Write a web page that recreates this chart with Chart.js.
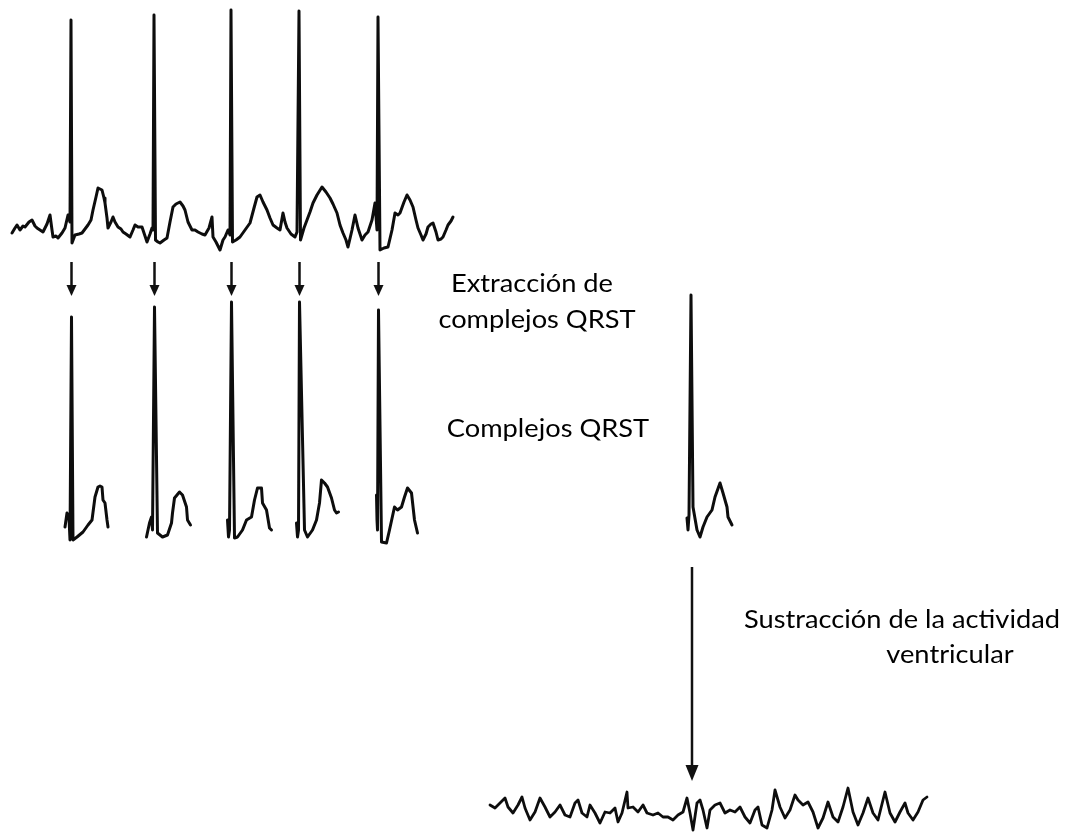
<!DOCTYPE html>
<html>
<head>
<meta charset="utf-8">
<script src="https://cdn.jsdelivr.net/npm/chart.js@4"></script>
<style>
  html, body { margin: 0; padding: 0; background: #fff; }
  #wrap { width: 1082px; height: 834px; position: relative; }
</style>
</head>
<body>
<div id="wrap"><canvas id="ecg"></canvas></div>
<script>
// ECG signal, samples as [time, amplitude] relative to trace start / baseline
const ecgTrace = [
    [0,-3],[3,2],[5,5],[8,0],[11,4],[13,3],[17,8],[20,10],[23,4],[25,2],[28,0],[31,-2],[35,6],[38,15],[40,0],[41,-7],
    [44,-6],[46,-8],[50,-3],[53,2],[56,15],[58,8],[59,210],[60,-13],[63,-5],[67,-4],[70,-3],[73,1],[76,5],[79,10],
    [81,20],[84,33],[86,42],[88,41],[90,40],[92,32],[93,27],[95,12],[96,2],[99,8],[101,13],[103,8],[106,3],[109,1],
    [111,-2],[114,-4],[118,-7],[121,0],[123,5],[126,3],[130,3],[133,-6],[135,-12],[138,-4],[140,2],[141,0],[142,215],
    [143.5,-10],[146,-12],[148,-13],[152,-10],[155,-8],[158,8],[161,23],[164,26],[168,28],[171,24],[173,20],[176,8],
    [180,0],[183,0],[186,-2],[190,-4],[193,-5],[197,2],[200,13],[201,-7],[204,-12],[208,-20],[211,-10],[213,-7],
    [216,0],[218,-5],[219,220],[220.5,-12],[224,-10],[228,-7],[233,0],[238,7],[242,22],[245,33],[248,35],[251,28],
    [255,20],[258,12],[261,5],[265,2],[268,0],[271,17],[273,8],[275,2],[279,-4],[283,-7],[285,-2],[287,219],
    [288.5,-10],[292,2],[295,10],[298,18],[301,27],[305,35],[310,43],[314,38],[318,32],[321,26],[325,17],[328,5],
    [331,-3],[334,-10],[336,-17],[340,0],[343,15],[346,2],[350,-10],[353,-5],[356,-2],[360,10],[363,27],[365,0],
    [366,213],[368,-20],[372,-18],[376,-17],[380,0],[383,17],[386,15],[388,17],[392,28],[395,35],[398,30],[401,23],
    [404,10],[406,2],[409,-5],[411,-10],[414,-4],[416,3],[419,6],[421,7],[424,-2],[426,-10],[429,-9],[431,-7],
    [434,0],[436,5],[439,9],[441,13]
];
// beat (R peak) times in the ECG, same time unit
const beatTimes = [59, 142, 219, 287, 366];

// extracted QRST complexes, [time from R peak, amplitude]
const complex1 = [[-6.5,-7],[-4.5,7],[-2.5,2],[-1.5,-20],[0,203],[1.5,-20],[5.5,-17],[11.5,-12],[16.5,-5],[20.5,0],[23.5,23],[26.5,33],[28.5,34],[30.5,33],[31.5,20],[33.5,17],[35.5,0],[36.5,-7]];
const complex2 = [[-8,-17],[-5,-3],[-3,3],[-2,-10],[0,213],[3,-13],[8,-17],[13,-15],[17,-3],[18,7],[20,22],[25,28],[28,25],[32,13],[33,0],[36,-5]];
const complex3 = [[-4,0],[-3,-17],[-2,-10],[0,218],[3,-18],[6,-17],[11,-10],[15,0],[20,3],[23,20],[26,32],[30,32],[31,17],[35,10],[38,-8],[40,-10]];
const complex4 = [[-3,-3],[-2,-17],[-1,-10],[0,218],[5,-10],[8,-17],[13,-10],[17,0],[20,17],[22,40],[25,37],[28,33],[32,22],[35,10],[37,7],[39,8]];
const complex5 = [[-2,25],[-1.5,0],[-1,-10],[0,210],[3,-22],[8,-23],[11,-10],[16,13],[19,10],[23,13],[26,23],[29,32],[33,27],[36,0],[39,-13]];

// averaged QRST template
const template = [[-4,2],[-3,-10],[-2,5],[0,225],[2,13],[6,-10],[9,-17],[12,-7],[16,3],[21,10],[24,23],[29,37],[32,27],[36,13],[37,3],[41,-5]];

// residual atrial activity after subtraction
const residual = [
    [0,5],[5,2],[10,7],[15,12],[18,3],[23,-3],[28,5],[32,13],[35,2],[40,-10],[45,-2],[50,12],[55,3],[60,-7],[65,-2],
    [70,5],[75,-5],[80,-7],[85,7],[88,10],[92,-3],[97,-7],[100,5],[105,-3],[110,-13],[115,-2],[120,-3],[125,2],[128,-12],
    [132,-3],[137,18],[138,2],[143,3],[148,-2],[153,5],[157,-3],[163,-5],[168,-3],[173,-7],[178,-7],[183,-10],[188,-5],
    [193,-2],[197,12],[200,-3],[203,-20],[207,7],[210,10],[213,0],[217,-18],[220,0],[225,5],[230,7],[235,-3],[240,0],
    [245,-2],[250,3],[255,-7],[260,-13],[265,0],[268,3],[272,-15],[277,-18],[282,0],[285,20],[290,3],[295,-8],[300,0],
    [305,15],[308,10],[313,5],[318,8],[323,-2],[328,-18],[333,-8],[338,8],[343,-7],[348,-12],[353,3],[358,22],[363,-2],
    [368,-15],[373,-3],[378,12],[383,-3],[388,-10],[395,18],[400,-3],[405,-12],[410,-2],[415,7],[418,-3],[423,-10],
    [428,-2],[433,10],[437,13]
];

// text lines: centre and baseline
const labelLines = [
    { text: 'Extracción de', cx: 532, base: 292 },
    { text: 'complejos QRST', cx: 537, base: 328 },
    { text: 'Complejos QRST', cx: 548, base: 437 },
    { text: 'Sustracción de la actividad', cx: 902, base: 628 },
    { text: 'ventricular', cx: 950, base: 663 }
];

// where each trace sits on the page (x origin, baseline)
const ecgOrigin = { x: 12, y: 230 };
const complexBase = 520;
const templateOrigin = { x: 691, y: 520 };
const residualOrigin = { x: 490, y: 810 };

function place(points, ox, oy) {
    return points.map(p => ({ x: ox + p[0], y: oy - p[1] }));
}

function lineSet(data, width) {
    return {
        data: data,
        borderColor: '#0d0d0d',
        borderWidth: width || 3,
        pointRadius: 0,
        tension: 0,
        fill: false,
        borderJoinStyle: 'round',
        borderCapStyle: 'round'
    };
}

const complexes = [complex1, complex2, complex3, complex4, complex5];
const rPeaks = beatTimes.map(t => ecgOrigin.x + t + 0.5);

const datasets = [lineSet(place(ecgTrace, ecgOrigin.x, ecgOrigin.y))];
complexes.forEach((c, i) => {
    datasets.push(lineSet(place(c, rPeaks[i], complexBase)));
});
datasets.push(lineSet(place(template, templateOrigin.x, templateOrigin.y)));
datasets.push(lineSet(place(residual, residualOrigin.x, residualOrigin.y), 2.8));

function arrow(ctx, xs, ys, x, y1, y2, head, hw) {
    const px = xs.getPixelForValue(x);
    const a = ys.getPixelForValue(y1);
    const b = ys.getPixelForValue(y2);
    ctx.beginPath();
    ctx.moveTo(px, a);
    ctx.lineTo(px, b - head + 1);
    ctx.stroke();
    ctx.beginPath();
    ctx.moveTo(px - hw, b - head);
    ctx.lineTo(px + hw, b - head);
    ctx.lineTo(px, b);
    ctx.closePath();
    ctx.fill();
}

const overlay = {
    id: 'overlay',
    afterDatasetsDraw(chart) {
        const ctx = chart.ctx;
        const xs = chart.scales.x, ys = chart.scales.y;
        ctx.save();
        ctx.strokeStyle = '#111';
        ctx.fillStyle = '#111';
        ctx.lineWidth = 2.5;
        rPeaks.forEach(x => arrow(ctx, xs, ys, x, 262, 296, 11, 5));
        arrow(ctx, xs, ys, templateOrigin.x + 1, 567, 781, 16, 6.5);

        ctx.fillStyle = '#000';
        ctx.font = '25px Lato';
        ctx.textAlign = 'center';
        ctx.textBaseline = 'alphabetic';
        labelLines.forEach(l => {
            // slightly wider than Lato, closer to the original Calibri look
            ctx.save();
            ctx.translate(xs.getPixelForValue(l.cx), ys.getPixelForValue(l.base));
            ctx.scale(1.09, 1);
            ctx.fillText(l.text, 0, 0);
            ctx.restore();
        });
        ctx.restore();
    }
};

new Chart(document.getElementById('ecg'), {
    type: 'line',
    data: { datasets: datasets },
    options: {
        responsive: true,
        maintainAspectRatio: false,
        animation: false,
        layout: { padding: 0 },
        plugins: { legend: { display: false }, tooltip: { enabled: false } },
        scales: {
            x: { type: 'linear', min: 0, max: 1082, display: false },
            y: { type: 'linear', min: 0, max: 834, reverse: true, display: false }
        }
    },
    plugins: [overlay]
});
</script>
</body>
</html>
